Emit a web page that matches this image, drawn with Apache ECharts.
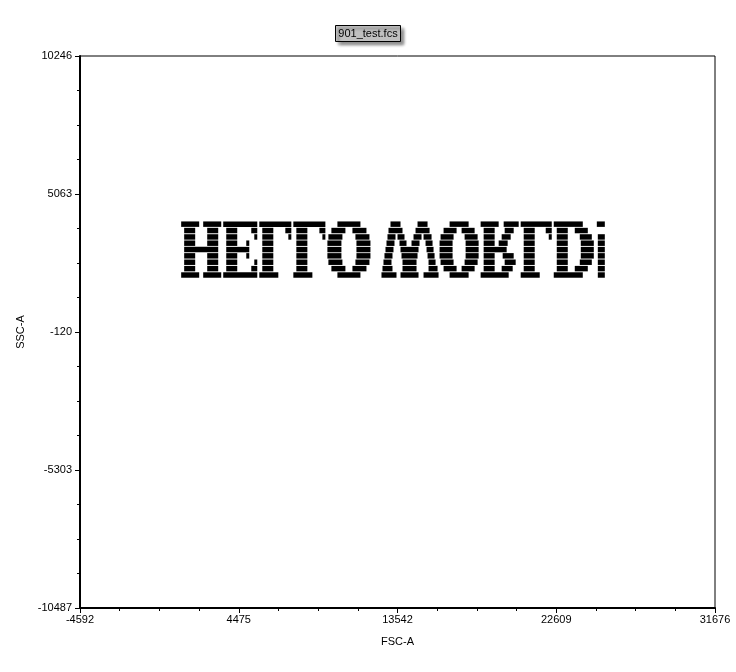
<!DOCTYPE html>
<html><head><meta charset="utf-8">
<script src="https://cdn.jsdelivr.net/npm/echarts@6/dist/echarts.min.js"></script>
<style>html,body{margin:0;padding:0;background:#fff}#c{width:736px;height:672px}</style>
</head><body><div id="c"></div>
<script>
const chartTitle = '901_test.fcs';
const xName = 'FSC-A';
const yName = 'SSC-A';
const xTickLabels = ['-4592', '4475', '13542', '22609', '31676'];
const yTickLabels = ['-10487', '-5303', '-120', '5063', '10246'];
const xRange = [-4592, 31676];
const yRange = [-10487, 10246];

// SSC-A value of each horizontal event row (top to bottom)
const bandY = [3930, 3690, 3450, 3215, 2975, 2740, 2500, 2260, 2020];
// FSC-A [start, end] runs of events in each row
const band0 = [[1186,2215],[2444,3474],[3588,5533],[5648,7478],[7593,9423],[10110,11425],[13142,13714],[14686,15258],[16517,17604],[18290,19320],[19606,20464],[20578,22352],[22466,24125],[24926,25383]];
const band1 = [[1357,1987],[2673,3302],[3760,4389],[5190,5533],[5819,6449],[7135,7478],[7764,8394],[9080,9423],[9766,10567],[10968,11769],[13027,13828],[14572,15373],[16173,16917],[17203,17947],[18462,19091],[19663,20178],[20750,21379],[22008,22352],[22638,23267],[23667,24411]];
const band2 = [[1357,1987],[2673,3302],[3760,4389],[5362,5533],[5819,6449],[7307,7478],[7764,8394],[9252,9423],[9595,10396],[11139,11940],[12970,13428],[13542,13942],[14457,14915],[15029,15487],[16002,16745],[17375,18118],[18462,19091],[19491,20006],[20750,21379],[22180,22352],[22638,23267],[23953,24640],[24983,25383]];
const band3 = [[1357,1987],[2673,3302],[3760,4389],[4904,5076],[5819,6449],[7764,8394],[9538,10339],[11197,11997],[12913,13370],[13656,14057],[14343,14800],[15144,15544],[15945,16688],[17432,18176],[18462,19091],[19320,19834],[20750,21379],[22638,23267],[24011,24754],[24983,25383]];
const band4 = [[1357,3302],[3760,5076],[5819,6449],[7764,8394],[9538,10339],[11197,11997],[12856,13313],[13714,14743],[15201,15601],[15945,16688],[17432,18176],[18462,19777],[20750,21379],[22638,23267],[24011,24754],[24983,25383]];
const band5 = [[1357,1987],[2673,3302],[3760,4389],[4904,5076],[5819,6449],[7764,8394],[9538,10339],[11197,11997],[12798,13256],[13771,14686],[15258,15659],[15945,16688],[17432,18176],[18462,19091],[19549,20178],[20750,21379],[22638,23267],[24011,24754],[24983,25383]];
const band6 = [[1357,1987],[2673,3302],[3760,4389],[5362,5533],[5819,6449],[7764,8394],[9595,10396],[11139,11940],[12741,13199],[13828,14629],[15315,15716],[16002,16745],[17375,18118],[18462,19091],[19663,20292],[20750,21379],[22638,23267],[23953,24640],[24983,25383]];
const band7 = [[1357,1987],[2673,3302],[3760,4389],[5190,5533],[5819,6449],[7764,8394],[9766,10567],[10968,11769],[12684,13256],[13828,14629],[15315,15830],[16173,16917],[17203,17947],[18462,19091],[19491,20121],[20750,21379],[22638,23267],[23667,24411],[24983,25383]];
const band8 = [[1186,2215],[2444,3474],[3588,5533],[5648,6735],[7593,8680],[10110,11425],[12627,13485],[13714,14743],[15029,15887],[16517,17604],[18290,19892],[20578,21665],[22466,24125],[24983,25383]];

const bands = [band0, band1, band2, band3, band4, band5, band6, band7, band8];
const rows = [];
bands.forEach(function (segs, i) {
  segs.forEach(function (s) { rows.push([bandY[i], s[0], s[1]]); });
});

const ROW_THICK = 205; // in SSC units
const FONT = '"Liberation Sans", Arial, sans-serif';

function labelFromList(list, range) {
  const step = (range[1] - range[0]) / (list.length - 1);
  return function (v) {
    const idx = Math.round((v - range[0]) / step);
    return list[idx] !== undefined ? list[idx] : '';
  };
}

const chart = echarts.init(document.getElementById('c'), null, { renderer: 'canvas' });
chart.setOption({
  animation: false,
  backgroundColor: '#fff',
  title: {
    text: chartTitle,
    left: 'center',
    top: 25,
    padding: [2, 3, 2, 3],
    backgroundColor: '#c0c0c0',
    borderColor: '#000',
    borderWidth: 1,
    shadowColor: 'rgba(0,0,0,0.45)',
    shadowBlur: 3,
    shadowOffsetX: 3,
    shadowOffsetY: 3,
    textStyle: { fontFamily: FONT, fontSize: 11, fontWeight: 'normal', color: '#000', lineHeight: 13 }
  },
  grid: {
    left: 80, right: 21, top: 56, bottom: 64,
    show: true, borderColor: '#000', borderWidth: 1, backgroundColor: 'transparent'
  },
  xAxis: {
    type: 'value',
    min: xRange[0], max: xRange[1],
    interval: (xRange[1] - xRange[0]) / (xTickLabels.length - 1),
    name: xName, nameLocation: 'middle', nameGap: 28,
    nameTextStyle: { fontFamily: FONT, fontSize: 11, color: '#000' },
    axisLine: { show: true, onZero: false, lineStyle: { color: '#000', width: 2 } },
    axisTick: { show: true, length: 5, lineStyle: { color: '#000', width: 1 } },
    minorTick: { show: true, splitNumber: 4, length: 3, lineStyle: { color: '#000', width: 1 } },
    splitLine: { show: false },
    axisLabel: { fontFamily: FONT, fontSize: 11, color: '#000', margin: 6,
      showMinLabel: true, showMaxLabel: true,
      formatter: labelFromList(xTickLabels, xRange) }
  },
  yAxis: {
    type: 'value',
    min: yRange[0], max: yRange[1],
    interval: (yRange[1] - yRange[0]) / (yTickLabels.length - 1),
    name: yName, nameLocation: 'middle', nameGap: 42,
    nameTextStyle: { fontFamily: FONT, fontSize: 11, color: '#000' },
    axisLine: { show: true, onZero: false, lineStyle: { color: '#000', width: 2 } },
    axisTick: { show: true, length: 5, lineStyle: { color: '#000', width: 1 } },
    minorTick: { show: true, splitNumber: 4, length: 3, lineStyle: { color: '#000', width: 1 } },
    splitLine: { show: false },
    axisLabel: { fontFamily: FONT, fontSize: 11, color: '#000', margin: 8,
      showMinLabel: true, showMaxLabel: true,
      formatter: labelFromList(yTickLabels, yRange) }
  },
  series: [{
    type: 'custom',
    data: rows,
    encode: { x: [1, 2], y: 0 },
    renderItem: function (params, api) {
      const y = api.value(0);
      const p0 = api.coord([api.value(1), y]);
      const p1 = api.coord([api.value(2), y]);
      const h = api.size([0, ROW_THICK])[1];
      return {
        type: 'rect',
        shape: { x: p0[0], y: p0[1] - h / 2, width: p1[0] - p0[0], height: h },
        style: { fill: '#000' }
      };
    }
  }]
});
</script>
</body></html>
